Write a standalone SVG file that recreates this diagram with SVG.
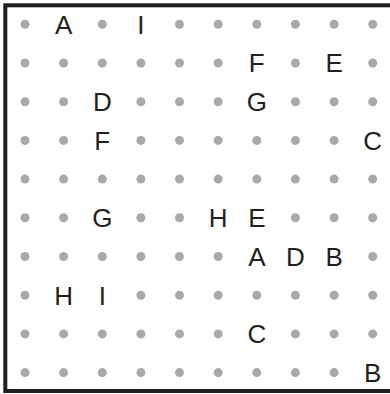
<svg xmlns="http://www.w3.org/2000/svg" width="390" height="394" viewBox="0 0 390 394">
<style>
.d{fill:#a7a9ac}
.t{font-family:"Liberation Sans",Arial,sans-serif;font-size:26px;fill:#231f20;text-anchor:middle}
</style>
<rect x="0" y="0" width="390" height="394" fill="#ffffff"/>
<rect x="5.3" y="5.3" width="420" height="385.7" fill="none" stroke="#231f20" stroke-width="4"/>
<g id="dots">
<!-- row 0 y=24.3 -->
<circle class="d" cx="25" cy="24.3" r="4.5"/><circle class="d" cx="102.3" cy="24.3" r="4.5"/><circle class="d" cx="179.5" cy="24.3" r="4.5"/><circle class="d" cx="218.2" cy="24.3" r="4.5"/><circle class="d" cx="256.8" cy="24.3" r="4.5"/><circle class="d" cx="295.4" cy="24.3" r="4.5"/><circle class="d" cx="334.1" cy="24.3" r="4.5"/><circle class="d" cx="372.7" cy="24.3" r="4.5"/>
<!-- row 1 y=63 -->
<circle class="d" cx="25" cy="63" r="4.5"/><circle class="d" cx="63.6" cy="63" r="4.5"/><circle class="d" cx="102.3" cy="63" r="4.5"/><circle class="d" cx="140.9" cy="63" r="4.5"/><circle class="d" cx="179.5" cy="63" r="4.5"/><circle class="d" cx="218.2" cy="63" r="4.5"/><circle class="d" cx="295.4" cy="63" r="4.5"/><circle class="d" cx="372.7" cy="63" r="4.5"/>
<!-- row 2 y=101.7 -->
<circle class="d" cx="25" cy="101.7" r="4.5"/><circle class="d" cx="63.6" cy="101.7" r="4.5"/><circle class="d" cx="140.9" cy="101.7" r="4.5"/><circle class="d" cx="179.5" cy="101.7" r="4.5"/><circle class="d" cx="218.2" cy="101.7" r="4.5"/><circle class="d" cx="295.4" cy="101.7" r="4.5"/><circle class="d" cx="334.1" cy="101.7" r="4.5"/><circle class="d" cx="372.7" cy="101.7" r="4.5"/>
<!-- row 3 y=140.4 -->
<circle class="d" cx="25" cy="140.4" r="4.5"/><circle class="d" cx="63.6" cy="140.4" r="4.5"/><circle class="d" cx="140.9" cy="140.4" r="4.5"/><circle class="d" cx="179.5" cy="140.4" r="4.5"/><circle class="d" cx="218.2" cy="140.4" r="4.5"/><circle class="d" cx="256.8" cy="140.4" r="4.5"/><circle class="d" cx="295.4" cy="140.4" r="4.5"/><circle class="d" cx="334.1" cy="140.4" r="4.5"/>
<!-- row 4 y=179.1 -->
<circle class="d" cx="25" cy="179.1" r="4.5"/><circle class="d" cx="63.6" cy="179.1" r="4.5"/><circle class="d" cx="102.3" cy="179.1" r="4.5"/><circle class="d" cx="140.9" cy="179.1" r="4.5"/><circle class="d" cx="179.5" cy="179.1" r="4.5"/><circle class="d" cx="218.2" cy="179.1" r="4.5"/><circle class="d" cx="256.8" cy="179.1" r="4.5"/><circle class="d" cx="295.4" cy="179.1" r="4.5"/><circle class="d" cx="334.1" cy="179.1" r="4.5"/><circle class="d" cx="372.7" cy="179.1" r="4.5"/>
<!-- row 5 y=217.8 -->
<circle class="d" cx="25" cy="217.8" r="4.5"/><circle class="d" cx="63.6" cy="217.8" r="4.5"/><circle class="d" cx="140.9" cy="217.8" r="4.5"/><circle class="d" cx="179.5" cy="217.8" r="4.5"/><circle class="d" cx="295.4" cy="217.8" r="4.5"/><circle class="d" cx="334.1" cy="217.8" r="4.5"/><circle class="d" cx="372.7" cy="217.8" r="4.5"/>
<!-- row 6 y=256.5 -->
<circle class="d" cx="25" cy="256.5" r="4.5"/><circle class="d" cx="63.6" cy="256.5" r="4.5"/><circle class="d" cx="102.3" cy="256.5" r="4.5"/><circle class="d" cx="140.9" cy="256.5" r="4.5"/><circle class="d" cx="179.5" cy="256.5" r="4.5"/><circle class="d" cx="218.2" cy="256.5" r="4.5"/><circle class="d" cx="372.7" cy="256.5" r="4.5"/>
<!-- row 7 y=295.2 -->
<circle class="d" cx="25" cy="295.2" r="4.5"/><circle class="d" cx="140.9" cy="295.2" r="4.5"/><circle class="d" cx="179.5" cy="295.2" r="4.5"/><circle class="d" cx="218.2" cy="295.2" r="4.5"/><circle class="d" cx="256.8" cy="295.2" r="4.5"/><circle class="d" cx="295.4" cy="295.2" r="4.5"/><circle class="d" cx="334.1" cy="295.2" r="4.5"/><circle class="d" cx="372.7" cy="295.2" r="4.5"/>
<!-- row 8 y=333.9 -->
<circle class="d" cx="25" cy="333.9" r="4.5"/><circle class="d" cx="63.6" cy="333.9" r="4.5"/><circle class="d" cx="102.3" cy="333.9" r="4.5"/><circle class="d" cx="140.9" cy="333.9" r="4.5"/><circle class="d" cx="179.5" cy="333.9" r="4.5"/><circle class="d" cx="218.2" cy="333.9" r="4.5"/><circle class="d" cx="295.4" cy="333.9" r="4.5"/><circle class="d" cx="334.1" cy="333.9" r="4.5"/><circle class="d" cx="372.7" cy="333.9" r="4.5"/>
<!-- row 9 y=372.6 -->
<circle class="d" cx="25" cy="372.6" r="4.5"/><circle class="d" cx="63.6" cy="372.6" r="4.5"/><circle class="d" cx="102.3" cy="372.6" r="4.5"/><circle class="d" cx="140.9" cy="372.6" r="4.5"/><circle class="d" cx="179.5" cy="372.6" r="4.5"/><circle class="d" cx="218.2" cy="372.6" r="4.5"/><circle class="d" cx="256.8" cy="372.6" r="4.5"/><circle class="d" cx="295.4" cy="372.6" r="4.5"/><circle class="d" cx="334.1" cy="372.6" r="4.5"/>
</g>
<g id="A1"><text class="t" x="63.6" y="33.6">A</text></g>
<g id="I1"><text class="t" x="140.9" y="33.6">I</text></g>
<g id="F1"><text class="t" x="256.8" y="72.3">F</text></g>
<g id="E1"><text class="t" x="334.1" y="72.3">E</text></g>
<g id="D1"><text class="t" x="102.3" y="111">D</text></g>
<g id="G1"><text class="t" x="256.8" y="111">G</text></g>
<g id="F2"><text class="t" x="102.3" y="149.7">F</text></g>
<g id="C1"><text class="t" x="372.7" y="149.7">C</text></g>
<g id="G2"><text class="t" x="102.3" y="227.1">G</text></g>
<g id="H1"><text class="t" x="218.2" y="227.1">H</text></g>
<g id="E2"><text class="t" x="256.8" y="227.1">E</text></g>
<g id="A2"><text class="t" x="256.8" y="265.8">A</text></g>
<g id="D2"><text class="t" x="295.4" y="265.8">D</text></g>
<g id="B1"><text class="t" x="334.1" y="265.8">B</text></g>
<g id="H2"><text class="t" x="63.6" y="304.5">H</text></g>
<g id="I2"><text class="t" x="102.3" y="304.5">I</text></g>
<g id="C2"><text class="t" x="256.8" y="343.2">C</text></g>
<g id="B2"><text class="t" x="372.7" y="381.9">B</text></g>
<g id="connectors"></g>
</svg>
